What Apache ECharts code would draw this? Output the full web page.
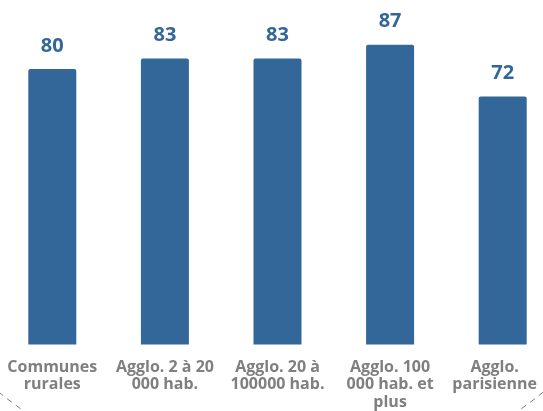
<!DOCTYPE html>
<html><head><meta charset="utf-8">
<script src="https://cdn.jsdelivr.net/npm/echarts@6/dist/echarts.min.js"></script>
<style>html,body{margin:0;padding:0;background:#fff;overflow:hidden;width:543px;height:411px}#c{width:563px;height:411px;margin-left:-4px}</style>
</head><body><div id="c"></div>
<script>
const categories = ['Communes\nrurales', 'Agglo. 2 à 20\n000 hab.', 'Agglo. 20 à\n100000 hab.', 'Agglo. 100\n000 hab. et\nplus', 'Agglo.\nparisienne'];
const values = [80, 83, 83, 87, 72];

const catData = categories.map((c, i) => i === categories.length - 1
  ? {value: c, textStyle: {padding: [0, 16, 0, 0]}}
  : c);

const chart = echarts.init(document.getElementById('c'), null, {renderer: 'canvas'});
chart.setOption({
  animation: false,
  backgroundColor: '#ffffff',
  grid: {left: 0, right: 0, top: -2, bottom: 66, containLabel: false},
  xAxis: {
    type: 'category', data: catData,
    axisLine: {show: false}, axisTick: {show: false},
    axisLabel: {interval: 0, margin: 14, color: '#7f7f7f', fontFamily: 'Open Sans', fontWeight: 'bold', fontSize: 16, lineHeight: 17.5}
  },
  yAxis: {type: 'value', min: 0, max: 100, show: false, splitLine: {show: false}},
  graphic: [{
    type: 'ellipse', silent: true, z: -1,
    shape: {cx: 275, cy: 100, rx: 414.3, ry: 387.4},
    style: {fill: 'none', stroke: '#808080', lineWidth: 1, lineDash: [6, 5]}
  }],
  series: [{
    type: 'bar', data: values, barWidth: 48,
    itemStyle: {color: '#336699', borderRadius: [2, 2, 0, 0]},
    label: {show: true, position: 'top', distance: 13, color: '#336699', fontFamily: 'Open Sans', fontWeight: 'bold', fontSize: 20}
  }]
});
</script></body></html>
